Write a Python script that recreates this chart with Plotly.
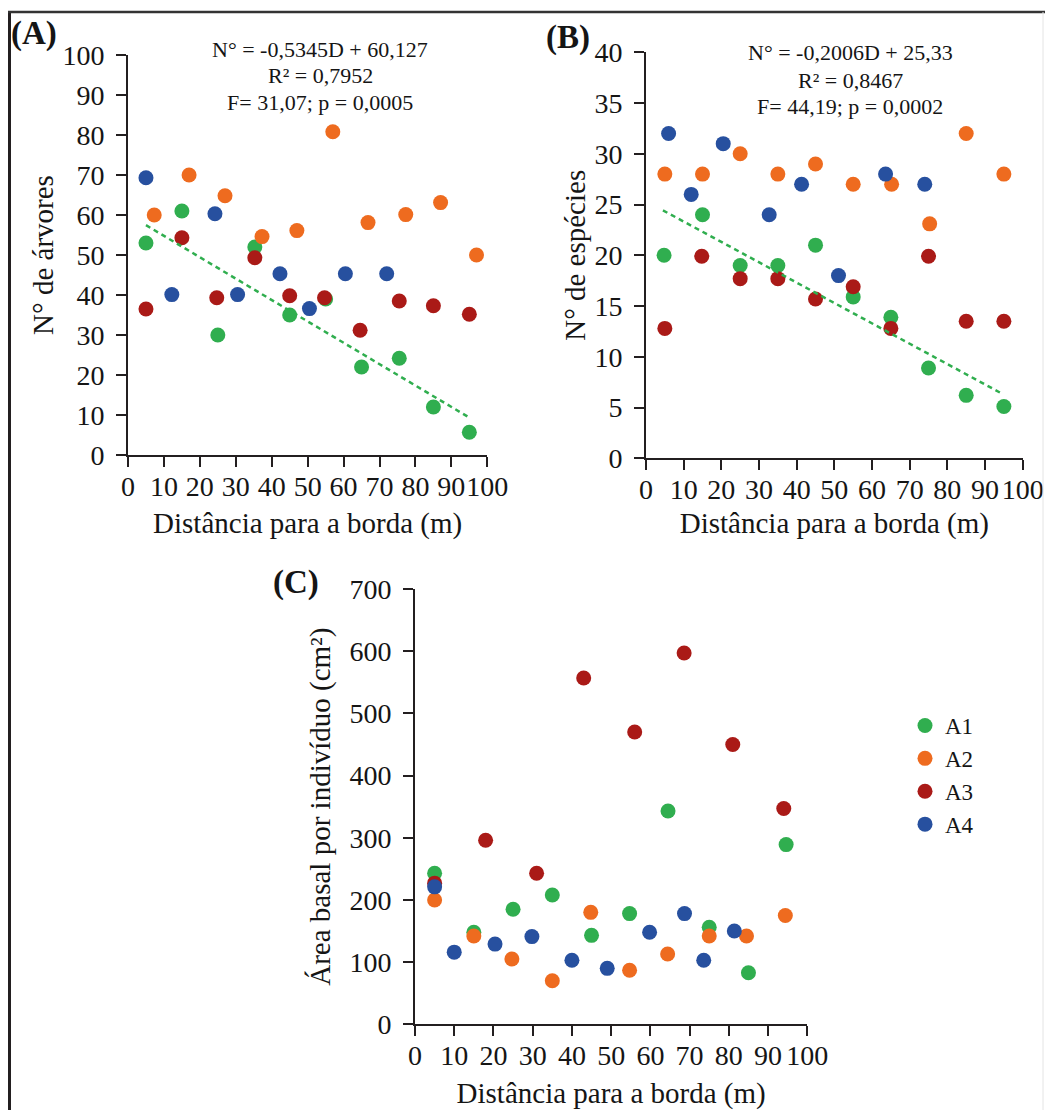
import plotly.graph_objects as go

# ---------------- data ----------------
series_names = ["A1", "A2", "A3", "A4"]
colors = ["#30AE4F", "#EE6B1F", "#AA1A17", "#27509F"]

# Panel A: N° de árvores
a_x_A1 = [5, 15, 25, 35.3, 45, 55, 65, 75.5, 85, 95]
a_y_A1 = [53, 61, 30, 52, 35, 39, 22, 24.2, 12, 5.7]
a_x_A2 = [7.3, 17, 27, 37.3, 47, 57, 66.8, 77.3, 87, 97]
a_y_A2 = [60, 70, 64.8, 54.6, 56.1, 80.8, 58.1, 60.1, 63.1, 50]
a_x_A3 = [5, 15, 24.7, 35.3, 45, 54.7, 64.6, 75.5, 85, 95]
a_y_A3 = [36.5, 54.3, 39.3, 49.3, 39.8, 39.3, 31.2, 38.5, 37.3, 35.2]
a_x_A4 = [5, 12.2, 24.2, 30.5, 42.3, 50.5, 60.5, 72]
a_y_A4 = [69.3, 40.1, 60.3, 40.1, 45.3, 36.6, 45.3, 45.3]
a_slope, a_intercept = -0.5345, 60.127
a_fit_x = [5, 95]

# Panel B: N° de espécies
b_x_A1 = [4.8, 15, 25, 35, 45, 55, 65, 75, 85, 95]
b_y_A1 = [20, 24, 19, 19, 21, 15.9, 13.9, 8.9, 6.2, 5.1]
b_x_A2 = [5, 15, 25, 35, 45, 55, 65.2, 75.3, 85, 95]
b_y_A2 = [28, 28, 30, 28, 29, 27, 27, 23.1, 32, 28]
b_x_A3 = [5, 14.8, 25, 35, 45, 55, 65, 75, 85, 95]
b_y_A3 = [12.8, 19.9, 17.7, 17.7, 15.7, 16.9, 12.8, 19.9, 13.5, 13.5]
b_x_A4 = [6, 12, 20.5, 32.7, 41.3, 51.1, 63.6, 74]
b_y_A4 = [32, 26, 31, 24, 27, 18, 28, 27]
b_slope, b_intercept = -0.2006, 25.33
b_fit_x = [4.5, 94.5]

# Panel C: Área basal por indivíduo
c_x_A1 = [5, 15, 25, 35, 45, 54.7, 64.5, 75, 85, 94.6]
c_y_A1 = [243, 148, 185, 208, 143, 178, 343, 156, 83, 289]
c_x_A2 = [5, 15, 24.7, 35, 44.8, 54.7, 64.4, 75, 84.5, 94.4]
c_y_A2 = [200, 142, 105, 70, 180, 87, 113, 142, 142, 175]
c_x_A3 = [5, 18, 31, 43, 56, 68.6, 81, 94]
c_y_A3 = [227, 296, 243, 557, 470, 597, 450, 347]
c_x_A4 = [5, 10, 20.4, 29.8, 40, 49, 59.8, 68.7, 73.6, 81.4]
c_y_A4 = [221, 116, 129, 141, 103, 90, 148, 178, 103, 150]

x_title = "Distância para a borda (m)"
a_y_title = "N° de árvores"
b_y_title = "N° de espécies"
c_y_title = "Área basal por indivíduo (cm²)"
a_eq_lines = ["N° = -0,5345D + 60,127", "R² = 0,7952", "F= 31,07; p = 0,0005"]
b_eq_lines = ["N° = -0,2006D + 25,33", "R² = 0,8467", "F= 44,19; p = 0,0002"]

# ---------------- figure ----------------
W, H = 1045, 1110
FONT = "Liberation Serif, Times New Roman, serif"
INK = "#151515"
fig = go.Figure()

panels = {
    "A": dict(xs=[a_x_A1, a_x_A2, a_x_A3, a_x_A4], ys=[a_y_A1, a_y_A2, a_y_A3, a_y_A4], xa="x", ya="y"),
    "B": dict(xs=[b_x_A1, b_x_A2, b_x_A3, b_x_A4], ys=[b_y_A1, b_y_A2, b_y_A3, b_y_A4], xa="x2", ya="y2"),
    "C": dict(xs=[c_x_A1, c_x_A2, c_x_A3, c_x_A4], ys=[c_y_A1, c_y_A2, c_y_A3, c_y_A4], xa="x3", ya="y3"),
}

for key, p in panels.items():
    for i, name in enumerate(series_names):
        fig.add_trace(go.Scatter(
            x=p["xs"][i], y=p["ys"][i], mode="markers", name=name,
            marker=dict(color=colors[i], size=15, line=dict(width=0)),
            xaxis=p["xa"], yaxis=p["ya"], showlegend=(key == "C"),
        ))

# trend lines (fitted equations)
fig.add_trace(go.Scatter(
    x=a_fit_x, y=[a_slope * v + a_intercept for v in a_fit_x], mode="lines",
    line=dict(color=colors[0], width=2.5, dash="5px,4px"), xaxis="x", yaxis="y", showlegend=False))
fig.add_trace(go.Scatter(
    x=b_fit_x, y=[b_slope * v + b_intercept for v in b_fit_x], mode="lines",
    line=dict(color=colors[0], width=2.5, dash="5px,4px"), xaxis="x2", yaxis="y2", showlegend=False))


def px_x(v):
    return v / W


def px_y(v):
    return 1 - v / H


axis_common = dict(showline=True, linecolor="#231F20", linewidth=2, ticks="outside",
                   ticklen=10, tickwidth=2, tickcolor="#231F20", showgrid=False,
                   zeroline=False, automargin=False,
                   tickfont=dict(family=FONT, size=28, color=INK),
                   title_font=dict(family=FONT, size=29, color=INK))
x_common = dict(axis_common, tickangle=0, ticklabelstandoff=-5, range=[0, 100], dtick=10)
y_common = dict(axis_common, ticklabelstandoff=6)

fig.update_layout(
    template="none",
    width=W, height=H, margin=dict(l=0, r=0, t=0, b=0, pad=0),
    paper_bgcolor="white", plot_bgcolor="white",
    font=dict(family=FONT, color=INK),
    xaxis=dict(domain=[px_x(128), px_x(487.3)], anchor="y",
               title=dict(text=x_title, standoff=12), **x_common),
    yaxis=dict(domain=[px_y(455), px_y(55)], range=[0, 100], dtick=10, anchor="x",
               title=dict(text=a_y_title, standoff=0), **y_common),
    xaxis2=dict(domain=[px_x(646), px_x(1022.7)], anchor="y2",
                title=dict(text=x_title, standoff=9), **x_common),
    yaxis2=dict(domain=[px_y(458.3), px_y(52.3)], range=[0, 40], dtick=5, anchor="x2",
                title=dict(text=b_y_title, standoff=0), **y_common),
    xaxis3=dict(domain=[px_x(415), px_x(807.3)], anchor="y3",
                title=dict(text=x_title, standoff=17), **x_common),
    yaxis3=dict(domain=[px_y(1024.3), px_y(589)], range=[0, 700], dtick=100, anchor="x3",
                title=dict(text=c_y_title, standoff=10), **y_common),
    legend=dict(x=px_x(905), y=px_y(704), xanchor="left", yanchor="top",
                font=dict(family=FONT, size=23, color=INK), bgcolor="rgba(0,0,0,0)",
                itemsizing="trace", borderwidth=0),
    showlegend=True,
)

eq_specs = [(a_eq_lines, 320, [49.3, 76, 102.7]), (b_eq_lines, 850, [52.3, 80, 106.7])]
for lines, cx, ys in eq_specs:
    for txt, ly in zip(lines, ys):
        fig.add_annotation(text=txt, x=px_x(cx), y=px_y(ly), xref="paper", yref="paper",
                           xanchor="center", yanchor="middle", showarrow=False,
                           font=dict(family=FONT, size=22, color=INK))

labels = [("(A)", 9, 33), ("(B)", 544, 38), ("(C)", 271, 582)]
for t, lx, ly in labels:
    fig.add_annotation(text="<b>" + t + "</b>", x=px_x(lx), y=px_y(ly), xref="paper", yref="paper",
                       xanchor="left", yanchor="middle", showarrow=False,
                       font=dict(family=FONT, size=33, color=INK))

# outer frame lines
fig.add_shape(type="line", xref="paper", yref="paper", x0=px_x(9.5), x1=px_x(9.5), y0=0, y1=px_y(11),
              line=dict(color="#231F20", width=3))
fig.add_shape(type="line", xref="paper", yref="paper", x0=px_x(8), x1=px_x(1045), y0=px_y(12), y1=px_y(12),
              line=dict(color="#333333", width=2.5))
fig.add_shape(type="line", xref="paper", yref="paper", x0=px_x(1043), x1=px_x(1043), y0=0, y1=px_y(12),
              line=dict(color="#e4e4e4", width=1))

fig.write_html("out.html")
